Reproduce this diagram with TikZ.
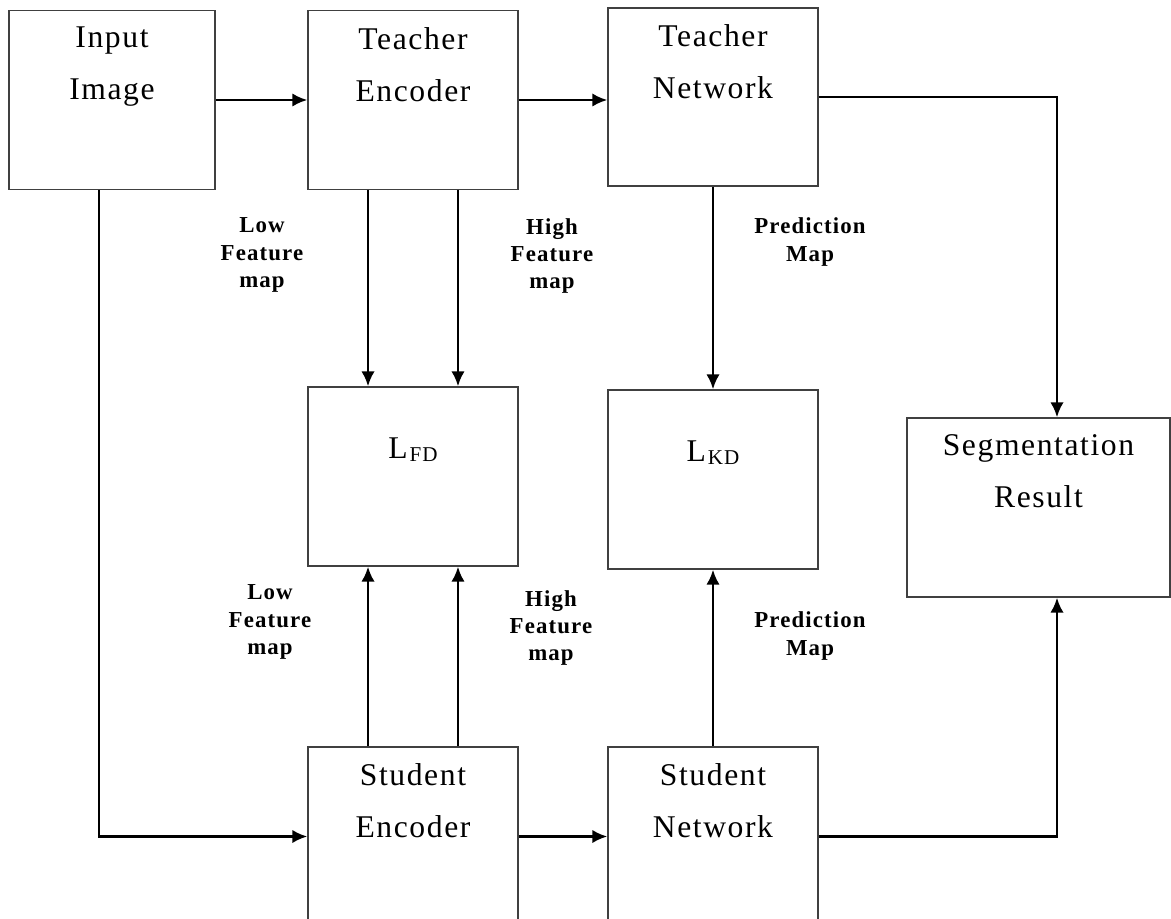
\documentclass[tikz,border=0pt]{standalone}
\usepackage{fontspec}
\setmainfont{Liberation Serif}[LetterSpace=5]
\usetikzlibrary{arrows.meta}
\begin{document}
\begin{tikzpicture}[x=0.02cm, y=-0.02cm,
		box/.style={draw=black!75, line width=0.8pt, inner sep=0pt, minimum width=4.2cm, minimum height=3.58cm},
		boxtxt/.style={anchor=north, inner sep=0pt, yshift=-0.34cm, align=center, font=\fontsize{18}{29.6}\selectfont},
		maptxt/.style={align=center, inner sep=0pt, font=\fontsize{13}{15.4}\selectfont\bfseries},
		arr/.style={line width=1.5pt, -{Latex[length=0.3cm, width=0.27cm]}}]
		\clip (0,0) rectangle (1171,919);
		\fill[white] (0,0) rectangle (1171,919);
		\node[box, minimum width=4.12cm, label={[boxtxt]north:Input\\Image}] (inp) at (112,100) {};
		\node[box, label={[boxtxt]north:Teacher\\Encoder}] (tenc) at (413,100) {};
		\node[box, minimum height=3.56cm, label={[boxtxt]north:Teacher\\Network}] (tnet) at (713,97) {};
		\node[box, label={[boxtxt, yshift=-0.68cm]north:L\kern1pt\raisebox{-2pt}{\fontsize{12}{12}\selectfont FD}}] (lfd) at (413,476.5) {};
		\node[box, label={[boxtxt, yshift=-0.68cm]north:L\kern1pt\raisebox{-2pt}{\fontsize{12}{12}\selectfont KD}}] (lkd) at (713,479.5) {};
		\node[box, minimum width=5.26cm, label={[boxtxt]north:Segmentation\\Result}] (seg) at (1038.5,507.5) {};
		\node[box, label={[boxtxt]north:Student\\Encoder}] (senc) at (413,836.5) {};
		\node[box, label={[boxtxt]north:Student\\Network}] (snet) at (713,836.5) {};
		\coordinate (down) at (99,0);
		\coordinate (side) at (1057,0);
		\node[maptxt] (lowt) at (262,255) {Low\\Feature\\map};
		\node[maptxt] (hight) at (552,256) {High\\Feature\\map};
		\node[maptxt] (predt) at (810,242) {Prediction\\Map};
		\node[maptxt] (lows) at (270,622) {Low\\Feature\\map};
		\node[maptxt] (highs) at (551,628) {High\\Feature\\map};
		\node[maptxt] (preds) at (810,636) {Prediction\\Map};
		\draw[arr] (inp.east) -- (inp.east -| tenc.west);
		\draw[arr] (tenc.east) -- (tenc.east -| tnet.west);
		\draw[arr] (tnet.east) -| (side |- seg.north);
		\draw[arr] ([xshift=-0.9cm]tenc.south) -- ([xshift=-0.9cm]lfd.north);
		\draw[arr] ([xshift=0.9cm]tenc.south) -- ([xshift=0.9cm]lfd.north);
		\draw[arr] (tnet.south) -- (lkd.north);
		\draw[arr] (inp.south -| down) |- (senc.west);
		\draw[arr] (senc.east) -- (snet.west);
		\draw[arr] ([xshift=-0.9cm]senc.north) -- ([xshift=-0.9cm]lfd.south);
		\draw[arr] ([xshift=0.9cm]senc.north) -- ([xshift=0.9cm]lfd.south);
		\draw[arr] (snet.north) -- (lkd.south);
		\draw[arr] (snet.east) -| (side |- seg.south);
	\end{tikzpicture}
\end{document}
